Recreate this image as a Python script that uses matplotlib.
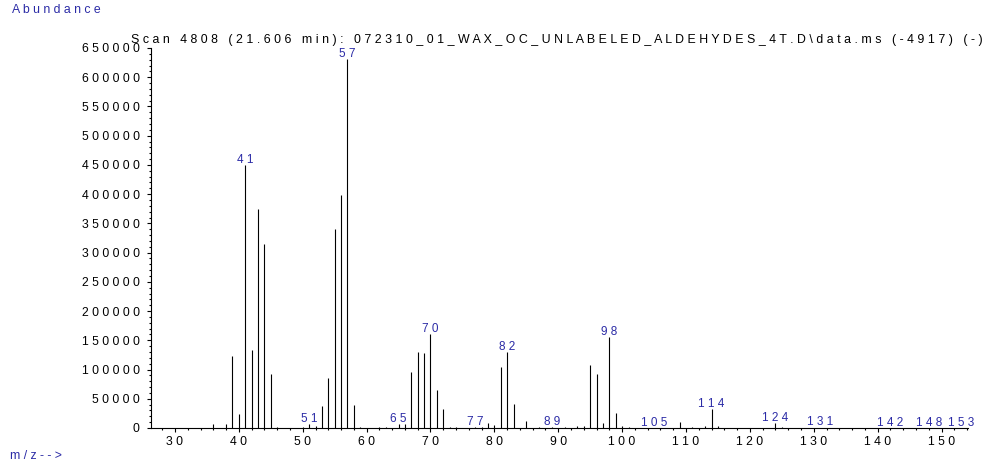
import matplotlib

matplotlib.use("Agg")
import matplotlib.pyplot as plt
from matplotlib.ticker import FuncFormatter, MultipleLocator

# mass spectrum, scan 4808
mz = [36, 38, 39, 40, 41, 42, 43, 44, 45, 46, 50, 51, 52, 53, 54, 55, 56, 57, 58, 59,
      62, 63, 65, 66, 67, 68, 69, 70, 71, 72, 73, 74, 77, 78, 79, 80, 81, 82, 83, 85,
      87, 89, 91, 93, 94, 95, 96, 97, 98, 99, 100, 101, 105, 109, 111, 113, 114, 115,
      124, 125, 131, 142, 148, 153]
abundance = [6000, 6000, 124000, 24000, 450000, 133000, 375000, 315000, 93000, 2000,
             1500, 7500, 4000, 37500, 85500, 341000, 399000, 631000, 39500, 2000,
             1500, 1500, 6500, 7000, 95500, 130000, 129000, 160000, 64500, 32000,
             1500, 1000, 1500, 1200, 8500, 5000, 104000, 130500, 41000, 12000,
             1000, 1200, 1500, 3000, 4000, 107000, 92000, 8500, 155000, 25000,
             3000, 1200, 500, 9700, 1000, 2900, 32000, 2900,
             8000, 1000, 800, 500, 300, 300]
labelled = [41, 51, 57, 65, 70, 77, 82, 89, 98, 105, 114, 124, 131, 142, 148, 153]

title = r"Scan 4808 (21.606 min): 072310_01_WAX_OC_UNLABELED_ALDEHYDES_4T.D\data.ms (-4917) (-)"
BLUE = "#2b2ba6"
FS = 8.8

plt.rcParams["font.family"] = ["Liberation Sans", "DejaVu Sans"]


def spaced(s):
    # ChemStation style letter spacing
    return " ".join(s)


fig = plt.figure(figsize=(9.85, 4.66), dpi=100)
ax = fig.add_axes([150.7 / 985, 38 / 466, (967.7 - 150.7) / 985, (428 - 48) / 466])

ax.vlines(mz, 0, abundance, color="black", linewidth=0.8)
height = dict(zip(mz, abundance))
for m in labelled:
    ax.annotate(spaced(str(m)), (m, height[m]), xytext=(0, 1.5), textcoords="offset points",
                ha="center", va="baseline", color=BLUE, fontsize=8.5, annotation_clip=False)

ax.set_xlim(26.2, 154.1)
ax.set_ylim(0, 650000)
ax.xaxis.set_major_locator(MultipleLocator(10))
ax.xaxis.set_minor_locator(MultipleLocator(2))
ax.yaxis.set_major_locator(MultipleLocator(50000))
ax.yaxis.set_minor_locator(MultipleLocator(10000))
fmt = FuncFormatter(lambda v, p: spaced(f"{v:.0f}"))
ax.xaxis.set_major_formatter(fmt)
ax.yaxis.set_major_formatter(fmt)
ax.tick_params(which="major", direction="out", length=3, width=0.8, labelsize=FS, pad=3)
ax.tick_params(which="minor", direction="out", length=1.7, width=0.8)
ax.tick_params(axis="y", which="major", pad=5)
for side in ("top", "right"):
    ax.spines[side].set_visible(False)
for side in ("left", "bottom"):
    ax.spines[side].set_linewidth(0.8)

ax.set_title(spaced(title), fontsize=8.95, pad=3.5, x=0.4965)
fig.text(12 / 985, 1 - 10 / 466, spaced("Abundance"), color=BLUE, fontsize=FS, va="center")
fig.text(10 / 985, 1 - 456 / 466, spaced("m/z-->"), color=BLUE, fontsize=FS, va="center")

fig.savefig("out.png", dpi=100)
